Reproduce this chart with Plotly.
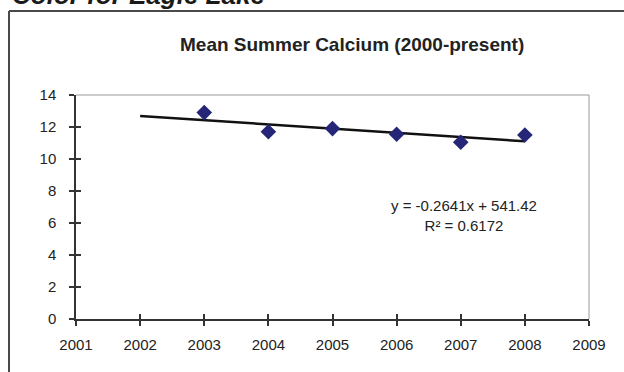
import plotly.graph_objects as go

# Mean summer calcium readings, Eagle Lake
years = [2003, 2004, 2005, 2006, 2007, 2008]
calcium = [12.9, 11.7, 11.9, 11.55, 11.05, 11.5]

# Linear trendline as reported by the fit
slope = -0.2641
intercept = 541.42
r_squared = 0.6172
trend_years = [2002, 2008]
trend_values = [slope * yr + intercept for yr in trend_years]

x_ticks = list(range(2001, 2010))
y_ticks = list(range(0, 15, 2))

W, H = 624, 372
L, R, T, B = 76, 589, 95, 319


def px(xpix):
    return (xpix - L) / (R - L)


def py(ypix):
    return (B - ypix) / (B - T)


FONT = "Liberation Sans, Arial, sans-serif"
AXIS = "#333333"

fig = go.Figure()

fig.add_trace(go.Scatter(
    x=trend_years, y=trend_values, mode="lines",
    line=dict(color="#111111", width=2.5), hoverinfo="skip", showlegend=False,
))
fig.add_trace(go.Scatter(
    x=years, y=calcium, mode="markers",
    marker=dict(symbol="diamond", size=12, color="#262678"),
    showlegend=False,
))
# invisible trace on overlay axes to carry inner tick marks
fig.add_trace(go.Scatter(x=[2001], y=[0], xaxis="x2", yaxis="y2",
                         mode="markers", marker=dict(opacity=0),
                         hoverinfo="skip", showlegend=False))

common = dict(showgrid=False, zeroline=False, tickcolor=AXIS, tickwidth=1.5,
              ticklen=5)

fig.update_layout(
    width=W, height=H,
    margin=dict(l=L, r=W - R, t=T, b=H - B),
    paper_bgcolor="white", plot_bgcolor="white",
    font=dict(family=FONT, size=15, color="#222222"),
    xaxis=dict(range=[2001, 2009], tickvals=x_ticks, ticks="outside",
               showline=True, linecolor=AXIS, linewidth=1.5,
               ticklabelstandoff=6, **common),
    yaxis=dict(range=[0, 14], tickvals=y_ticks, ticks="outside",
               showline=True, linecolor=AXIS, linewidth=1.5,
               ticklabelstandoff=10, **common),
    xaxis2=dict(range=[2001, 2009], tickvals=x_ticks, ticks="inside",
                overlaying="x", showticklabels=False, showline=False,
                **common),
    yaxis2=dict(range=[0, 14], tickvals=y_ticks, ticks="inside",
                overlaying="y", showticklabels=False, showline=False,
                **common),
    showlegend=False,
)

shapes = [
    # light border along top and right of plot area
    dict(type="line", xref="paper", yref="paper", x0=0, x1=1, y0=1, y1=1,
         line=dict(color="#9a9a9a", width=1)),
    dict(type="line", xref="paper", yref="paper", x0=1, x1=1, y0=0, y1=1,
         line=dict(color="#9a9a9a", width=1)),
    # outer chart frame
    dict(type="line", xref="paper", yref="paper", x0=px(9), x1=px(W + 5),
         y0=py(11), y1=py(11), line=dict(color="#4a4a4a", width=2)),
    dict(type="line", xref="paper", yref="paper", x0=px(9), x1=px(9),
         y0=py(11), y1=py(H + 5), line=dict(color="#4a4a4a", width=2)),
]
fig.update_layout(shapes=shapes)

annotations = [
    dict(text="<b>Mean Summer Calcium (2000-present)</b>", xref="paper",
         yref="paper", x=px(352), y=py(44), xanchor="center", yanchor="middle",
         showarrow=False, font=dict(size=19, color="#222222")),
    dict(text=f"y = {slope}x + {intercept}<br>R² = {r_squared}",
         xref="x", yref="y", x=2007.05, y=6.5, xanchor="center",
         yanchor="middle", align="center", showarrow=False,
         font=dict(size=15, color="#222222")),
    dict(text="<b><i>Color for Eagle Lake</i></b>", xref="paper",
         yref="paper", x=px(10), y=py(12), xanchor="left", yanchor="bottom",
         showarrow=False, font=dict(size=26, color="#1a1a1a")),
]
fig.update_layout(annotations=annotations)

fig.write_html("out.html")
